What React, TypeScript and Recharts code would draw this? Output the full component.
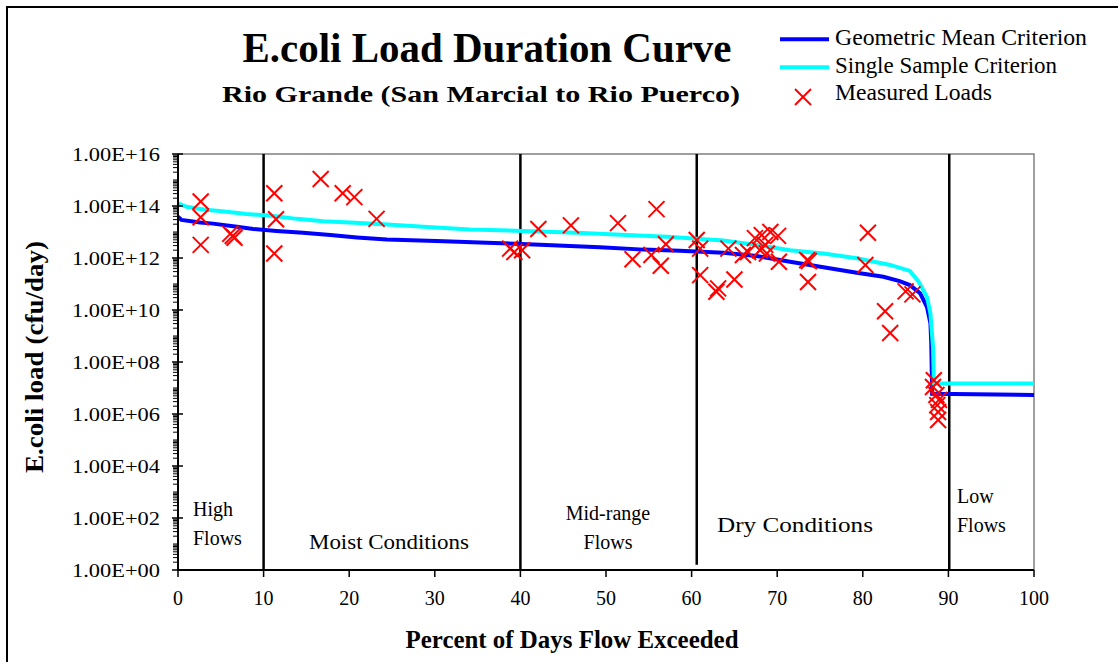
import React from 'react';
import { ComposedChart, Line, Scatter, XAxis, YAxis, ReferenceLine, ReferenceArea } from 'recharts';

// Geometric mean criterion curve (percent of days exceeded, load cfu/day)
const geoPct = [0, 0.4, 2.6, 4.1, 6.9, 8.8, 11.5, 14.6, 17.8, 20.9, 24.4, 30.2, 36.1, 42.3, 49.3, 54.4, 58.6, 63.7, 67.6, 71.5, 75.4, 79.3, 82.4, 84.3, 85.5, 86.7, 87.5, 87.9, 88.0, 88.1, 100];
const geoLoad = [3.9e13, 2.9e13, 2.3e13, 2.1e13, 1.6e13, 1.3e13, 1.1e13, 9.3e12, 7.6e12, 6.2e12, 5.2e12, 4.5e12, 3.9e12, 3.2e12, 2.6e12, 2.1e12, 1.9e12, 1.6e12, 1.2e12, 7.2e11, 4.4e11, 2.7e11, 1.9e11, 1.3e11, 9.1e10, 4.4e10, 1.3e10, 3.1e9, 5.2e8, 6.0e6, 5.4e6];

// Single sample criterion curve
const ssPct = [0, 1.0, 3.0, 5.7, 8.0, 10.7, 13.9, 17.0, 20.1, 24.0, 28.7, 34.1, 40.3, 46.6, 52.4, 57.1, 59.8, 63.7, 67.6, 71.5, 75.4, 79.3, 83.2, 85.5, 86.5, 87.5, 87.9, 88.2, 88.3, 100];
const ssLoad = [1.26e14, 9.3e13, 7.4e13, 6.0e13, 4.9e13, 4.3e13, 3.2e13, 2.6e13, 2.3e13, 2.0e13, 1.6e13, 1.26e13, 1.1e13, 9.3e12, 7.6e12, 6.6e12, 5.8e12, 4.7e12, 3.2e12, 2.0e12, 1.5e12, 9.8e11, 5.4e11, 3.2e11, 1.26e11, 3.2e10, 7.4e9, 3.9e8, 1.5e7, 1.5e7];

// Measured loads
const measPct = [2.65, 2.65, 2.65, 6.1, 6.4, 6.6, 11.25, 11.45, 11.25, 16.67, 19.24, 20.6, 23.2, 38.8, 39.3, 40.2, 42.1, 45.9, 51.4, 55.9, 53.1, 55.3, 56.4, 57.0, 60.6, 61.0, 61.0, 62.9, 63.1, 64.3, 65.0, 66.0, 66.6, 67.4, 68.0, 68.2, 68.6, 68.8, 69.2, 70.1, 70.2, 73.5, 73.7, 73.6, 80.6, 80.3, 82.6, 83.2, 85.0, 85.8, 88.3, 88.2, 88.6, 88.9, 88.7, 88.8, 88.8];
const measLoad = [1.5e14, 3.7e13, 3.2e12, 8.5e12, 7.0e12, 6.0e12, 3.1e14, 3.1e13, 1.5e12, 1.1e15, 3.1e14, 2.2e14, 3.2e13, 2.3e12, 1.7e12, 2.0e12, 1.3e13, 1.8e13, 2.2e13, 7.6e13, 9.0e11, 1.3e12, 5.0e11, 3.4e12, 4.9e12, 2.3e12, 2.2e11, 5.0e10, 6.8e10, 2.3e12, 1.5e11, 1.3e12, 1.7e12, 5.8e12, 2.0e12, 7.6e12, 3.2e12, 1.5e12, 1.0e13, 7.1e12, 7.2e11, 8.3e11, 7.6e11, 1.2e11, 9.3e12, 5.4e11, 9.0e9, 1.3e9, 5.2e10, 4.0e10, 2.0e7, 1.1e7, 5.4e6, 3.5e6, 2.2e6, 1.2e6, 5.9e5];

const xTicks = [0, 10, 20, 30, 40, 50, 60, 70, 80, 90, 100];
const yMajorTicks = [1, 1e2, 1e4, 1e6, 1e8, 1e10, 1e12, 1e14, 1e16];
const yTickLabels = ['1.00E+00', '1.00E+02', '1.00E+04', '1.00E+06', '1.00E+08', '1.00E+10', '1.00E+12', '1.00E+14', '1.00E+16'];
const flowBreaks = [10, 40, 90.1];
const dryBreak = 60.6;

const geoData = geoPct.map((p, i) => ({ pct: p, load: geoLoad[i] }));
const ssData = ssPct.map((p, i) => ({ pct: p, load: ssLoad[i] }));
const measData = measPct.map((p, i) => ({ pct: p, load: measLoad[i] }));

const minorTicks: number[] = [];
for (let k = 0; k < 16; k++) {
  for (let m = 2; m <= 10; m++) {
    if (m === 10 && k % 2 === 1) continue;
    minorTicks.push(m * Math.pow(10, k));
  }
}
const allYTicks = [...yMajorTicks, ...minorTicks.filter((v) => !yMajorTicks.some((t) => Math.abs(t - v) / t < 1e-6))].sort((a, b) => a - b);

const FONT = '"Liberation Serif", "Times New Roman", serif';
const AXIS_X = 178;
const AXIS_Y = 570;

const YTick = (props: any) => {
  const { y, payload } = props;
  const x = AXIS_X;
  const idx = yMajorTicks.findIndex((t) => Math.abs(t - payload.value) / t < 1e-6);
  if (idx >= 0) {
    return (
      <g>
        <line x1={x - 6} x2={x + 5} y1={y} y2={y} stroke="#000" strokeWidth={1.5} />
        <text x={x - 18} y={y + 6.5} textAnchor="end" fontFamily={FONT} fontSize={19} fill="#000" textLength={88} lengthAdjust="spacingAndGlyphs">
          {yTickLabels[idx]}
        </text>
      </g>
    );
  }
  return <line x1={x - 5} x2={x} y1={y} y2={y} stroke="#000" strokeWidth={1} />;
};

const XTick = (props: any) => {
  const { x, payload } = props;
  const y = AXIS_Y;
  return (
    <g>
      <line x1={x} x2={x} y1={y} y2={y + 7} stroke="#000" strokeWidth={1.5} />
      <text x={x} y={y + 35} textAnchor="middle" fontFamily={FONT} fontSize={20} fill="#000">
        {String(payload.value)}
      </text>
    </g>
  );
};

const XMark = (props: any) => {
  const { cx, cy } = props;
  if (cx == null || cy == null) return null;
  const s = 8;
  return (
    <g>
      <line x1={cx - s} y1={cy - s} x2={cx + s} y2={cy + s} stroke="#FF0000" strokeWidth={2} />
      <line x1={cx - s} y1={cy + s} x2={cx + s} y2={cy - s} stroke="#FF0000" strokeWidth={2} />
    </g>
  );
};

export default function App() {
  return (
    <div style={{ position: 'absolute', left: 0, top: 0, width: 1118, height: 662, overflow: 'hidden', background: '#fff' }}>
      <div style={{ position: 'absolute', left: 6, top: 6, width: 1300, height: 900, border: '2px solid #000', boxSizing: 'border-box' }} />
      <div style={{ position: 'absolute', left: 0, top: 0 }}>
        <ComposedChart width={1118} height={662} margin={{ top: 154, right: 84, bottom: 52, left: 78 }}>
          <XAxis
            type="number"
            dataKey="pct"
            domain={[0, 100]}
            ticks={xTicks}
            interval={0}
            allowDataOverflow
            height={40}
            tickSize={6}
            tickLine={false}
            axisLine={{ stroke: '#000', strokeWidth: 2 }}
            tick={<XTick />}
          />
          <YAxis
            type="number"
            dataKey="load"
            scale="log"
            domain={[1, 1e16]}
            ticks={allYTicks}
            interval={0}
            allowDataOverflow
            width={100}
            tickSize={6}
            tickLine={false}
            axisLine={{ stroke: '#000', strokeWidth: 2 }}
            tick={<YTick />}
          />
          <ReferenceArea x1={0} x2={100} y1={1} y2={1e16} fill="none" stroke="#808080" strokeWidth={1.5} ifOverflow="visible" />
          {flowBreaks.map((b) => (
            <ReferenceLine key={b} x={b} stroke="#000" strokeWidth={2.5} />
          ))}
          <ReferenceLine segment={[{ x: dryBreak, y: 1e16 }, { x: dryBreak, y: 1.6 }]} stroke="#000" strokeWidth={2.5} />
          <Line data={geoData} dataKey="load" type="linear" stroke="#0000FF" strokeWidth={4} dot={false} isAnimationActive={false} />
          <Line data={ssData} dataKey="load" type="linear" stroke="#00FFFF" strokeWidth={4} dot={false} isAnimationActive={false} />
          <Scatter data={measData} dataKey="load" shape={<XMark />} isAnimationActive={false} />
        </ComposedChart>
      </div>
      <svg width={1118} height={662} style={{ position: 'absolute', left: 0, top: 0, pointerEvents: 'none' }}>
        <text x={487} y={62} textAnchor="middle" fontFamily={FONT} fontWeight="bold" fontSize={43} textLength={489} lengthAdjust="spacingAndGlyphs">E.coli Load Duration Curve</text>
        <text x={481} y={102} textAnchor="middle" fontFamily={FONT} fontWeight="bold" fontSize={24} textLength={518} lengthAdjust="spacingAndGlyphs">Rio Grande (San Marcial to Rio Puerco)</text>

        <line x1={780} x2={829} y1={39.3} y2={39.3} stroke="#0000FF" strokeWidth={4} />
        <text x={835} y={45} fontFamily={FONT} fontSize={23} textLength={252} lengthAdjust="spacingAndGlyphs">Geometric Mean Criterion</text>
        <line x1={780} x2={829} y1={67.3} y2={67.3} stroke="#00FFFF" strokeWidth={4} />
        <text x={835} y={72.7} fontFamily={FONT} fontSize={23} textLength={222} lengthAdjust="spacingAndGlyphs">Single Sample Criterion</text>
        <line x1={795} y1={89} x2={811} y2={105} stroke="#FF0000" strokeWidth={2} />
        <line x1={795} y1={105} x2={811} y2={89} stroke="#FF0000" strokeWidth={2} />
        <text x={835} y={100} fontFamily={FONT} fontSize={23} textLength={157} lengthAdjust="spacingAndGlyphs">Measured Loads</text>

        <text x={43} y={357} transform="rotate(-90, 43, 357)" textAnchor="middle" fontFamily={FONT} fontWeight="bold" fontSize={25} textLength={232} lengthAdjust="spacingAndGlyphs">E.coli load (cfu/day)</text>
        <text x={572} y={648} textAnchor="middle" fontFamily={FONT} fontWeight="bold" fontSize={25} textLength={333} lengthAdjust="spacingAndGlyphs">Percent of Days Flow Exceeded</text>

        <text x={193} y={516} fontFamily={FONT} fontSize={20}>High</text>
        <text x={193} y={545} fontFamily={FONT} fontSize={20}>Flows</text>
        <text x={389} y={549} textAnchor="middle" fontFamily={FONT} fontSize={20} textLength={160} lengthAdjust="spacingAndGlyphs">Moist Conditions</text>
        <text x={608} y={520} textAnchor="middle" fontFamily={FONT} fontSize={20}>Mid-range</text>
        <text x={608} y={549} textAnchor="middle" fontFamily={FONT} fontSize={20}>Flows</text>
        <text x={795} y={532} textAnchor="middle" fontFamily={FONT} fontSize={20} textLength={156} lengthAdjust="spacingAndGlyphs">Dry Conditions</text>
        <text x={957} y={503} fontFamily={FONT} fontSize={20}>Low</text>
        <text x={957} y={532} fontFamily={FONT} fontSize={20}>Flows</text>
      </svg>
    </div>
  );
}
